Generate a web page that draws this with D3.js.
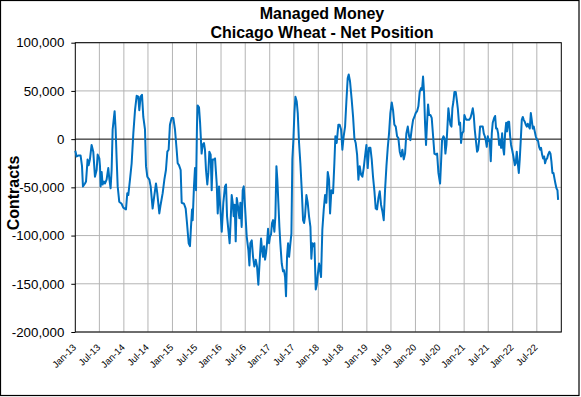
<!DOCTYPE html>
<html>
<head>
<meta charset="utf-8">
<script src="https://cdn.jsdelivr.net/npm/d3@7"></script>
<style>
  body { margin: 0; background: #fff; }
  text { font-family: "Liberation Sans", Arial, sans-serif; }
</style>
</head>
<body>
<svg width="581" height="397"></svg>
<script>
// weeks since 1 Jan 2013 (report weeks)
const weeks = [
  0,1.4,3.2,5.7,7.2,8.2,10.4,11.5,13.2,14.3,15.7,17.5,19.3,21.1,22.9,24,25.8,26.5,27.2,28.3,29.3,30.8,31.9,33.6,35.4,36.5,37.9,39,
  40.1,41.2,42.2,43.3,44.4,45.5,47.2,49.7,51.5,54.4,55.8,56.9,58.7,60.5,62.3,64.1,65.9,67.6,68.7,70.1,71.6,73,74.8,75.9,77.3,79.5,
  80.9,83,84.5,86.6,88,90.2,91.6,93.8,95.6,97.3,98.8,100.2,101.6,103.4,105.2,107,108.8,109.9,111.3,113.1,114.2,116.7,118.5,119.9,
  121.7,123.1,124.2,125.3,126,127.4,128.5,129.6,130.6,131.3,132.8,133.9,135.6,136.7,138.1,139.2,140.3,141.7,142.8,143.9,145.3,
  146.4,147.5,148.9,
  150,151.8,152.9,154.3,157.2,158.9,160.7,161.8,162.9,164.3,165.7,166.8,167.9,169,170,171.1,172.2,173.3,174.7,176.1,177.2,178.6,
  179.7,180.8,182.2,184,185.8,186.9,187.9,189.4,190.8,192.2,193.7,195.1,196.5,198,199.4,200.5,201.5,202.6,203.7,204.8,205.8,206.9,
  208,209,210.1,211.2,212.3,213.7,214.8,215.9,216.9,218,219.1,220.1,221.6,223,224.1,225.2,226.2,227.3,228.4,229.5,230.9,232,233,
  234.1,235.2,236.3,237.7,238.8,240.2,241.6,243.1,244.5,245.6,246.6,248.1,249.5,250.9,252.4,253.4,254.5,255.6,256.7,258.1,259.2,
  260.2,261.7,262.7,263.8,265.2,266.7,
  268.1,269.5,271,272.4,273.5,274.9,276.7,278.1,279.2,280.6,282.4,283.8,285.3,286.7,288.1,289.6,291,292.4,293.5,294.9,296.7,298.2,
  299.6,301,302.5,303.9,305.3,306.8,308.2,309.6,311,312.5,313.9,315.3,316.8,318.2,319.6,321.1,322.5,323.9,325.4,326.8,328.2,329.7,
  331.1,332.5,334,335.4,336.8,338.2,339.7,341.1,342.5,344,345.4,346.8,348.3,349.7,351.1,352.6,354,355.4,356.9,358.3,359.7,361.2,
  362.6,364,365.4,366.9,368.3,369.7,371.2,372.2,373.3,374.4,375.5,376.5,377.6,378.7,379.8,381.2,382.6,384.1,385.5,386.9,388.4,389.8,
  391.6,392.7,393.7,395.2,396.3,397.3,398.4,399.5,400.5,401.6,402.7,403.8,404.8,405.9,407,408.4,409.5,410.6,412,413.1,414.1,415.2,
  416.7,417.7,418.8,419.9,421.3,422.7,424.2,425.6,426.7,427.7,428.8,430.3,431.3,432.4,433.5,434.5,436,437.4,438.5,439.6,440.6,441.7,
  442.8,443.9,444.9,446,447.1,448.1,449.6,450.7,451.7,452.8,453.9,455,456,457.1,458.2,459.2,460.3,461.4,462.5,463.5,464.6,465.7,
  466.8,467.8,468.9,470.3,471.8,472.8,473.9,475,476.1,477.1,478.2,479.3,480.4,481.4,482.5,483.6,484.7,485.7,486.8,487.9,489,490,
  491.1,492.2,493.2,494.3,495.7,496.8,497.9,499,500,501.1,502.2,503.3,504.3,505.4,506.5,507.6,509,510.1,511.1,512.2,513.3,514.4,
  515.4,516.5,517.6,518.3
];
// net position, thousand contracts
const netK = [
  -12,-18,-17,-17,-28,-49,-46,-44,-21,-27,-21,-6,-13,-39,-32,-16,-20,-28,-49,-34,-47,-44,-46,-42,-30,-41,-51,-32,
  10,20,29,10,-21,-49,-65,-67,-71,-73,-56,-58,-42,-25,6,30,45,44,30,44,46,23,10,-28,-39,-42,
  -49,-72,-61,-46,-56,-77,-68,-56,-42,-32,-13,-11,15,22,22,10,-11,-25,-27,-32,-66,-67,-72,-87,
  -108,-111,-91,-73,-84,-49,-30,-53,13,35,33,18,-15,-6,-4,-11,-32,-47,-35,-13,-16,
  -53,-21,-21,
  -20,-46,-77,-49,-96,-66,-49,-47,-80,-94,-108,-84,-58,-66,-80,-68,-106,-61,-70,-82,-66,-91,
  -53,-49,-70,-101,-115,-131,-108,-105,-122,-132,-125,-132,-151,-125,-103,-115,-122,-111,-125,-118,-108,-93,
  -108,-101,-99,-87,-84,-96,-80,-28,-42,-66,-91,-108,-129,-137,-136,-143,-163,-122,-108,-122,-108,-98,-21,
  -1,27,44,39,27,-4,-25,-53,-84,-87,-80,-58,-66,-80,-91,-124,-108,-111,-108,-156,-151,
  -141,-129,-136,-143,-94,-73,
  -58,-66,-34,-42,-77,-53,-56,-25,3,-4,15,15,10,-11,3,13,39,63,67,60,41,23,
  1,-4,-16,-42,-28,-37,-39,-30,-18,-6,-30,-9,-9,-21,-39,-54,-72,-73,-61,-54,-68,-75,
  -84,-53,-28,-9,6,27,38,30,15,13,3,1,-13,-18,-11,-21,-15,6,13,3,-1,11,
  20,23,27,29,34,49,53,51,65,48,15,-6,17,36,25,25,22,3,-15,-16,-15,-35,
  -46,-23,-1,3,1,-15,-6,13,32,23,15,13,32,39,49,49,41,32,15,17,-4,6,
  8,25,22,20,20,20,22,27,32,25,10,-4,-13,-11,-1,13,13,13,6,3,-1,-8,
  3,-2,-1,-23,6,17,22,24,11,11,6,-6,-1,-9,6,-9,-16,6,17,8,18,18,
  3,-6,-11,-18,-27,-25,-13,-25,-35,-21,-1,20,23,20,18,15,13,16,13,11,27,20,
  11,13,8,3,-1,-2,-8,-11,-9,-16,-20,-18,-25,-21,-20,-16,-13,-15,-23,-35,-35,-41,
  -46,-51,-53,-63
];
const yTicks = [-200000, -150000, -100000, -50000, 0, 50000, 100000];
const titleLines = ["Managed Money", "Chicago Wheat - Net Position"];

const svg = d3.select("svg");
const plot = {left: 75.3, right: 561.3, top: 42.7, bottom: 332};
const start = new Date(2013, 0, 1);
const end = new Date(2023, 0, 1);

const points = weeks.map((w, i) => ({
  date: new Date(+start + w * 7 * 864e5),
  value: netK[i] * 1000
}));

const x = d3.scaleTime().domain([start, end]).range([plot.left, plot.right]);
const y = d3.scaleLinear().domain([-200000, 100000]).range([plot.bottom, plot.top]);

const fmt = d3.formatLocale({decimal: ".", thousands: ",", grouping: [3], currency: ["", ""], minus: "-"}).format(",");
const xTickDates = d3.timeMonth.every(6).range(start, end);

// outer frame
svg.append("rect")
  .attr("x", 0.5).attr("y", 0.5)
  .attr("width", 578.5).attr("height", 395)
  .attr("fill", "#fff").attr("stroke", "#000").attr("stroke-width", 1.2);

// gridlines
svg.append("g").selectAll("line").data(xTickDates.slice(1)).join("line")
  .attr("x1", d => x(d)).attr("x2", d => x(d))
  .attr("y1", plot.top).attr("y2", plot.bottom)
  .attr("stroke", "#b4b4b4").attr("stroke-width", 1);
svg.append("g").selectAll("line").data(yTicks.filter(d => d !== 0)).join("line")
  .attr("x1", plot.left).attr("x2", plot.right)
  .attr("y1", d => y(d)).attr("y2", d => y(d))
  .attr("stroke", "#b4b4b4").attr("stroke-width", 1);

// zero line
svg.append("line")
  .attr("x1", plot.left).attr("x2", plot.right)
  .attr("y1", y(0)).attr("y2", y(0))
  .attr("stroke", "#000").attr("stroke-width", 1);

// y axis
const yAxis = svg.append("g")
  .attr("transform", `translate(${plot.left},0)`)
  .call(d3.axisLeft(y).tickValues(yTicks).tickFormat(fmt).tickSize(4).tickPadding(7));
yAxis.select(".domain").remove();
yAxis.selectAll("line").attr("stroke", "#000");
yAxis.selectAll("text")
  .attr("fill", "#000")
  .style("font-size", "13.3px")
  .style("font-family", "'Liberation Sans', Arial, sans-serif");

// x labels
svg.append("g").selectAll("text").data(xTickDates).join("text")
  .attr("transform", d => `translate(${x(d) + 1.5},${plot.bottom + 16}) rotate(-45)`)
  .attr("text-anchor", "end")
  .style("font-size", "9.5px")
  .text(d3.timeFormat("%b-%y"));

// plot border
svg.append("rect")
  .attr("x", plot.left).attr("y", plot.top)
  .attr("width", plot.right - plot.left).attr("height", plot.bottom - plot.top)
  .attr("fill", "none").attr("stroke", "#000").attr("stroke-width", 1);

// series
const line = d3.line()
  .x(d => x(d.date))
  .y(d => y(d.value));
svg.append("path")
  .attr("d", line(points))
  .attr("fill", "none")
  .attr("stroke", "#0070C0")
  .attr("stroke-width", 2)
  .attr("stroke-linejoin", "round");

// titles
svg.append("g").selectAll("text").data(titleLines).join("text")
  .attr("x", 322).attr("y", (d, i) => 19 + i * 18.5)
  .attr("text-anchor", "middle")
  .style("font-size", "16px").style("font-weight", "bold")
  .text(d => d);

svg.append("text")
  .attr("transform", "translate(19,193) rotate(-90)")
  .attr("text-anchor", "middle")
  .style("font-size", "16px").style("font-weight", "bold")
  .text("Contracts");
</script>
</body>
</html>
